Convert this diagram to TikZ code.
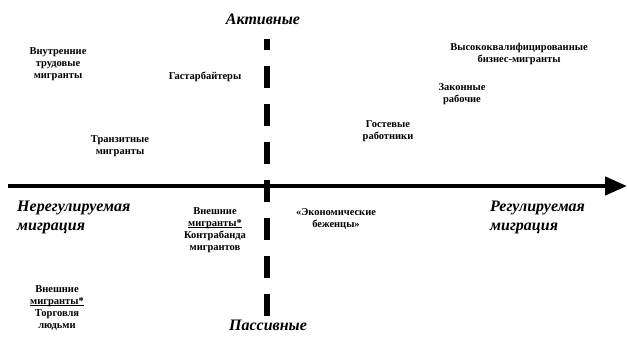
\documentclass[tikz,border=0pt]{standalone}
\usepackage{fontspec}
\setmainfont{Liberation Serif}
\usetikzlibrary{arrows.meta}
\newcommand\ulmark[1]{\setbox0\hbox{#1}\rlap{\rule[-1.3pt]{\wd0}{0.5pt}}\box0}
\begin{document}
\begin{tikzpicture}[x=1pt,y=-1pt,
  lbl/.style={font=\bfseries\fontsize{10.5}{12}\selectfont, align=center, inner sep=0pt},
  big/.style={font=\bfseries\itshape\fontsize{16}{19}\selectfont, inner sep=0pt},
  bigl/.style={big, align=left},
  axis/.style={line width=4.5pt, -{Triangle[length=22pt,width=18pt]}},
  vaxis/.style={line width=5.5pt, dash pattern=on 22pt off 16pt, dash phase=11pt}]
\useasboundingbox (0,0) rectangle (627,345);
\coordinate (hl) at (8,186);
\coordinate (hr) at (627,186);
\coordinate (vt) at (267,39);
\coordinate (vb) at (267,316);
\draw[axis] (hl) -- (hr);
\draw[vaxis] (vt) -- (vb);
\node[big] (act) at (263,19) {Активные};
\node[big] (pas) at (268,325) {Пассивные};
\node[bigl, anchor=west] (nereg) at (17,217) {Нерегулируемая\\миграция};
\node[bigl, anchor=west] (reg) at (490,217) {Регулируемая\\миграция};
\node[lbl] (vtm) at (58,64) {Внутренние\\трудовые\\мигранты};
\node[lbl] (gast) at (205,77) {Гастарбайтеры};
\node[lbl] (tran) at (120,146) {Транзитные\\мигранты};
\node[lbl] (vkb) at (519,54) {Высококвалифицированные\\бизнес-мигранты};
\node[lbl] (zak) at (462,94) {Законные\\рабочие};
\node[lbl] (gost) at (388,131) {Гостевые\\работники};
\node[lbl] (econ) at (336,219) {«Экономические\\беженцы»};
\node[lbl] (vmk) at (215,230) {Внешние\\\ulmark{мигранты*}\\Контрабанда\\мигрантов};
\node[lbl] (vmt) at (57,308) {Внешние\\\ulmark{мигранты*}\\Торговля\\людьми};
\end{tikzpicture}
\end{document}
